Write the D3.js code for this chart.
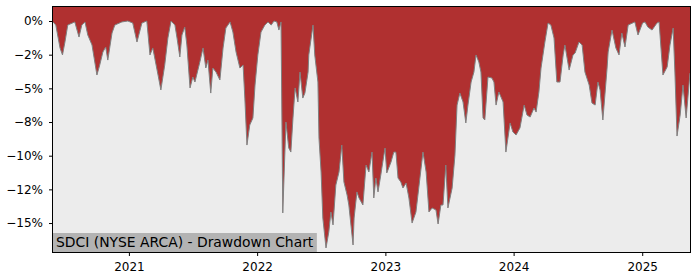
<!DOCTYPE html>
<html lang="en">
<head>
  <meta charset="UTF-8">
  <title>SDCI Drawdown Chart</title>
  <script src="https://d3js.org/d3.v7.min.js"></script>
  <style>
    body { margin: 0; background: #fff; }
    svg { display: block; font-family: "DejaVu Sans", sans-serif; }
    .tick text { font-size: 12px; fill: #000; }
    .tick line { stroke: #000; }
  </style>
</head>
<body>
  <svg id="chart" width="700" height="280"></svg>
  <script>
    // drawdown in percent
    const dates = [
      "2020-05-30","2020-06-07","2020-06-19","2020-06-26","2020-07-03","2020-07-11","2020-07-31","2020-08-12",
      "2020-08-20","2020-08-29","2020-09-06","2020-09-18","2020-10-02","2020-10-10","2020-10-19","2020-10-27",
      "2020-11-02","2020-11-14","2020-11-22","2020-12-12","2020-12-29","2021-01-12","2021-01-24","2021-02-07",
      "2021-02-21","2021-03-02","2021-03-10","2021-03-25","2021-04-02","2021-04-13","2021-04-22","2021-05-01",
      "2021-05-12","2021-05-18","2021-05-26","2021-06-01","2021-06-09","2021-06-15","2021-06-24","2021-07-02",
      "2021-07-08","2021-07-22","2021-07-31","2021-08-08","2021-08-14","2021-08-22","2021-08-28","2021-09-06",
      "2021-09-17","2021-09-26","2021-10-04","2021-10-16","2021-10-24","2021-11-02","2021-11-13","2021-11-22",
      "2021-11-27","2021-12-03","2021-12-11","2021-12-20","2021-12-26","2022-01-03","2022-01-12","2022-01-23",
      "2022-02-01","2022-02-10","2022-02-18","2022-02-26","2022-03-04","2022-03-10","2022-03-15","2022-03-24",
      "2022-04-01","2022-04-07","2022-04-13","2022-04-19","2022-04-27","2022-05-03","2022-05-11","2022-05-17",
      "2022-05-26","2022-05-28","2022-06-09","2022-06-14","2022-06-23","2022-06-26","2022-07-02","2022-07-07",
      "2022-07-16","2022-07-24","2022-07-30","2022-08-05","2022-08-13","2022-08-22","2022-08-30","2022-09-05",
      "2022-09-14","2022-09-19","2022-10-01","2022-10-04","2022-10-12","2022-10-18","2022-10-29","2022-11-07",
      "2022-11-15","2022-11-24","2022-11-29","2022-12-05","2022-12-11","2022-12-19","2022-12-22","2022-12-31",
      "2023-01-05","2023-01-17","2023-01-25","2023-01-31","2023-02-06","2023-02-14","2023-02-20","2023-03-01",
      "2023-03-09","2023-03-18","2023-03-29","2023-04-07","2023-04-18","2023-04-27","2023-05-05","2023-05-14",
      "2023-05-25","2023-05-31","2023-06-08","2023-06-14","2023-06-22","2023-06-28","2023-07-10","2023-07-18",
      "2023-07-24","2023-08-01","2023-08-10","2023-08-18","2023-08-24","2023-09-02","2023-09-10","2023-09-16",
      "2023-09-24","2023-09-30","2023-10-06","2023-10-11","2023-10-20","2023-10-31","2023-11-06","2023-11-12",
      "2023-11-20","2023-12-02","2023-12-10","2023-12-22","2023-12-30","2024-01-08","2024-01-19","2024-01-31",
      "2024-02-08","2024-02-17","2024-02-28","2024-03-05","2024-03-13","2024-03-19","2024-03-30","2024-04-08",
      "2024-04-16","2024-04-25","2024-05-03","2024-05-12","2024-05-21","2024-05-26","2024-06-07","2024-06-18",
      "2024-06-24","2024-07-05","2024-07-14","2024-07-22","2024-08-03","2024-08-11","2024-08-20","2024-08-28",
      "2024-09-03","2024-09-11","2024-09-23","2024-09-26","2024-10-07","2024-10-18","2024-10-27","2024-11-04",
      "2024-11-13","2024-11-22","2024-12-11","2024-12-20","2025-01-02","2025-01-09","2025-01-17","2025-01-29",
      "2025-02-12","2025-02-18","2025-03-01","2025-03-13","2025-03-21","2025-03-30","2025-04-04","2025-04-10",
      "2025-04-19","2025-04-27","2025-05-06","2025-05-17"
    ];
    const drawdown = [
      -0.07,-0.30,-2.00,-2.52,-1.56,-0.30,-0.07,-1.19,
      -0.30,-0.07,-1.04,-1.78,-4.01,-3.27,-2.30,-1.93,
      -2.90,-0.89,-0.30,-0.07,0,-0.15,-1.56,-0.15,
      0,-2.52,-2.00,-4.01,-5.12,-3.27,-1.26,0,
      -0.30,-1.26,-2.67,-1.04,-0.45,-1.78,-4.97,-4.16,
      -4.53,-3.04,-2.00,-3.49,-2.90,-5.35,-3.49,-3.79,
      -4.38,-2.00,-0.52,-0.07,-0.82,-2.30,-3.49,-3.27,
      -5.72,-9.21,-7.72,-7.20,-4.75,-2.52,-0.82,-0.30,
      -0.07,-0.30,0,-0.07,-0.67,-0.07,-14.25,-7.50,
      -9.43,-9.73,-7.20,-4.97,-6.01,-3.79,-5.72,-5.35,
      -3.79,-2.52,-0.30,-2.52,-4.53,-8.69,-11.21,-14.63,
      -16.85,-15.66,-14.18,-15.14,-12.18,-11.21,-9.21,-11.95,
      -12.92,-13.66,-16.63,-14.63,-12.69,-13.14,-13.66,-10.69,
      -11.21,-9.73,-13.14,-11.66,-12.69,-11.43,-10.91,-9.43,
      -11.28,-10.47,-9.73,-9.73,-11.66,-11.95,-12.40,-12.03,
      -13.14,-15.00,-14.18,-12.18,-9.73,-11.21,-14.18,-13.88,
      -14.03,-15.07,-13.66,-13.66,-10.69,-13.88,-12.40,-9.95,
      -6.24,-5.35,-6.01,-7.57,-6.24,-4.53,-3.79,-2.52,
      -3.04,-3.79,-7.20,-7.35,-4.16,-4.23,-4.53,-6.24,
      -5.27,-6.01,-9.73,-7.57,-8.24,-8.46,-7.94,-6.24,
      -6.98,-7.13,-6.46,-6.76,-5.27,-3.49,-1.56,-0.15,
      -0.30,-1.26,-4.53,-4.53,-2.52,-1.78,-3.64,-2.52,
      -2.38,-1.56,-1.78,-3.79,-4.75,-6.09,-6.24,-4.53,
      -5.12,-7.35,-3.49,-2.30,-0.67,-2.00,-2.52,-0.89,
      -1.93,-0.30,-0.07,-1.04,-0.15,-0.07,-0.45,-0.67,
      -0.15,-0.07,-4.01,-3.41,-1.78,-0.52,-3.79,-8.54,
      -6.98,-4.75,-7.20,-3.86
    ];
    const yTicks = [0, -2.5, -5, -7.5, -10, -12.5, -15];
    const yTickLabels = ["0%", "\u22122%", "\u22125%", "\u22128%", "\u221210%", "\u221212%", "\u221215%"];
    const xTickYears = [2021, 2022, 2023, 2024, 2025];
    const title = "SDCI (NYSE ARCA) - Drawdown Chart";

    const parse = d3.timeParse("%Y-%m-%d");
    const data = dates.map((d, i) => ({ date: parse(d), value: drawdown[i] }));

    const svg = d3.select("#chart");
    const margin = { top: 7, right: 10, bottom: 28, left: 53 };
    const width = 700, height = 280;

    const x = d3.scaleTime()
      .domain(d3.extent(data, d => d.date))
      .range([margin.left, width - margin.right]);

    const y = d3.scaleLinear()
      .domain([-17.15, 1.04])
      .range([height - margin.bottom, margin.top]);

    // plot background
    svg.append("rect")
      .attr("x", margin.left)
      .attr("y", margin.top)
      .attr("width", width - margin.left - margin.right)
      .attr("height", height - margin.top - margin.bottom)
      .attr("fill", "#ececec");

    // red area from the top of the plot down to the drawdown
    const area = d3.area()
      .x(d => x(d.date))
      .y0(margin.top)
      .y1(d => y(d.value));

    svg.append("path")
      .datum(data)
      .attr("d", area)
      .attr("fill", "#b03030");

    const line = d3.line()
      .x(d => x(d.date))
      .y(d => y(d.value));

    svg.append("path")
      .datum(data)
      .attr("d", line)
      .attr("fill", "none")
      .attr("stroke", "#808080")
      .attr("stroke-width", 1);

    // axes
    const yAxis = d3.axisLeft(y)
      .tickValues(yTicks)
      .tickFormat((d, i) => yTickLabels[i])
      .tickSize(4)
      .tickPadding(6);

    svg.append("g")
      .attr("transform", `translate(${margin.left},0)`)
      .call(yAxis)
      .call(g => g.select(".domain").remove())
      .call(g => g.selectAll("text").attr("font-family", "DejaVu Sans").attr("font-size", 12));

    const xAxis = d3.axisBottom(x)
      .tickValues(xTickYears.map(yr => new Date(yr, 0, 1)))
      .tickFormat(d3.timeFormat("%Y"))
      .tickSize(4)
      .tickPadding(6);

    svg.append("g")
      .attr("transform", `translate(0,${height - margin.bottom})`)
      .call(xAxis)
      .call(g => g.select(".domain").remove())
      .call(g => g.selectAll("text").attr("font-family", "DejaVu Sans").attr("font-size", 12));

    // title box in the lower left corner
    const label = svg.append("g");
    const labelText = label.append("text")
      .attr("x", margin.left + 3)
      .attr("y", height - margin.bottom - 5)
      .attr("font-size", 13.9)
      .attr("fill", "#000")
      .text(title);
    const bb = labelText.node().getBBox();
    label.insert("rect", "text")
      .attr("x", margin.left)
      .attr("y", height - margin.bottom - 19)
      .attr("width", bb.width + 6)
      .attr("height", 19)
      .attr("fill", "#b3b3b3");

    // frame, on half pixels so it stays crisp
    svg.append("rect")
      .attr("x", margin.left - 0.5)
      .attr("y", margin.top - 0.5)
      .attr("width", width - margin.left - margin.right + 1)
      .attr("height", height - margin.top - margin.bottom + 1)
      .attr("fill", "none")
      .attr("stroke", "#000")
      .attr("stroke-width", 1);
  </script>
</body>
</html>
